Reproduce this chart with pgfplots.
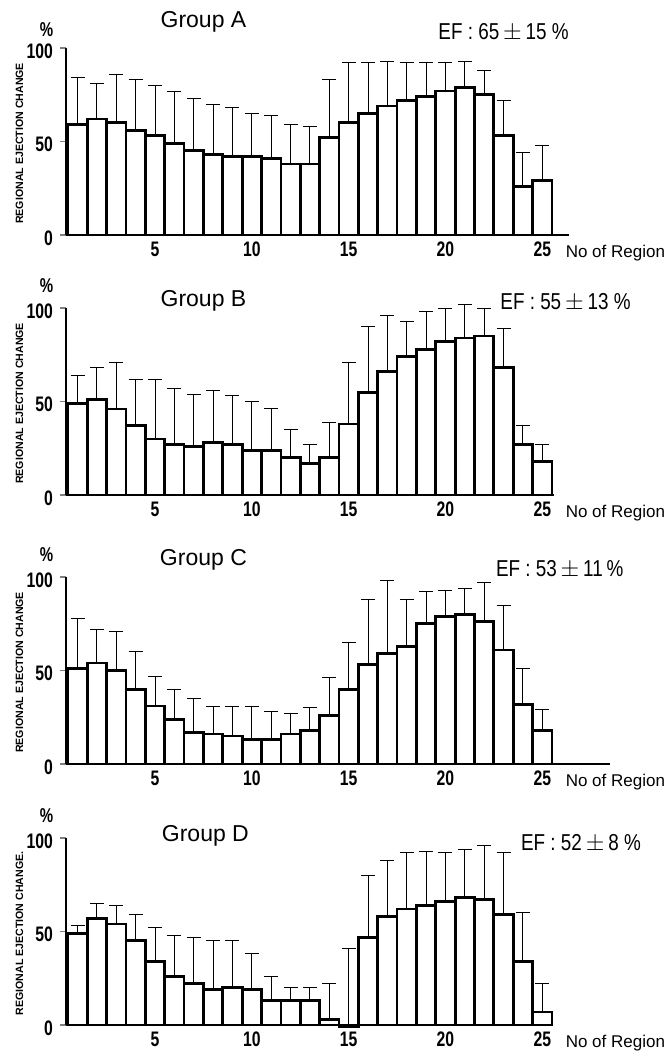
\documentclass[border=0pt]{standalone}
\usepackage{fontspec}
\setmainfont{Liberation Sans}
\newfontfamily\narrowfont[FakeStretch=0.82]{Liberation Sans}
\newfontfamily\tickfont[FakeStretch=0.75]{Liberation Sans}
\usepackage{pgfplots}
\usepackage{pgfplotstable}
\pgfplotsset{compat=1.18}

\pgfplotstableread{
x y e
1 59 25
2 62 19
3 60 26
4 56 27
5 53 27
6 49 28
7 45 28
8 43 27
9 42 26
10 42 23
11 41 23
12 38 21
13 38 20
14 52 31
15 60 32
16 65 27
17 69 24
18 72 20
19 74 18
20 77 15
21 79 14
22 75 13
23 53 19
24 26 18
25 29 19
}\groupA
\pgfplotstableread{
x y e
1 49 15
2 51 17
3 46 25
4 37 25
5 30 32
6 27 30
7 26 28
8 28 28
9 27 26
10 24 26
11 24 22
12 20 15
13 17 10
14 20 19
15 38 33
16 55 35
17 66 30
18 74 19
19 78 20
20 82 18
21 84 18
22 85 15
23 68 21
24 27 10
25 18 9
}\groupB
\pgfplotstableread{
x y e
1 51 27
2 54 18
3 50 21
4 40 20
5 31 16
6 24 16
7 17 18
8 16 15
9 15 16
10 13 18
11 13 15
12 16 11
13 18 12
14 26 20
15 40 25
16 53 35
17 59 39
18 63 25
19 75 17
20 79 14
21 80 14
22 76 21
23 61 24
24 32 19
25 18 11
}\groupC
\pgfplotstableread{
x y e
1 49 4
2 57 8
3 54 10
4 45 14
5 34 18
6 26 22
7 22 25
8 19 26
9 20 25
10 19 19
11 13 13
12 13 7
13 13 7
14 3 19
15 -1 42
16 47 33
17 58 30
18 62 30
19 64 29
20 66 26
21 68 26
22 67 29
23 59 33
24 34 26
25 7 15
}\groupD

\tikzset{
  lbl/.style={font=\narrowfont\fontsize{11.5}{13}\selectfont},
  ttl/.style={font=\fontsize{11.5}{13}\selectfont},
}
\pgfplotsset{
  panel/.style={
    x=9.68pt, y=0.935pt,
    xmin=0.4, ymin=0, ymax=100,
    anchor=south west,
    clip=false,
    axis x line*=bottom, axis y line*=left,
    axis line style={line width=1.3pt},
    xtick={5,10,15,20,25},
    ytick={0,50,100},
    xtick style={draw=none},
    ytick style={line width=0.8pt},
    tick align=outside,
    major tick length=3pt,
    /pgf/number format/assume math mode=true,
    tick label style={font=\tickfont\bfseries\fontsize{10.5}{12}\selectfont},
    xticklabel style={yshift=3pt},
    yticklabel style={yshift=-1.5pt},
  },
  regbars/.style={
    ybar, bar width=1, draw=black, fill=white, line width=1.4pt,
    error bars/.cd, y dir=plus, y explicit,
    error bar style={line width=0.5pt},
    error mark options={rotate=90, mark size=3.5pt, line width=0.5pt},
  },
}
\newcommand{\ylab}[1]{\node[rotate=90, font=\bfseries\fontsize{5.3}{6}\selectfont] at (axis cs:-2.0,49) {#1};}
\newcommand{\pct}[1]{\node[font=\tickfont\bfseries\fontsize{10}{12}\selectfont] at (axis cs:-0.6,#1) {\%};}
\newcommand{\region}{\node[anchor=west, font=\fontsize{8.5}{10}\selectfont] at (axis cs:25.85,-9.5) {No of Region};}

\begin{document}
\begin{tikzpicture}
\path[use as bounding box] (-33pt,-409.5pt) rectangle (299.5pt,117.5pt);

\begin{axis}[panel, xmax=26.4, at={(0,0)}]
  \addplot[regbars] table[x=x, y=y, y error=e] {\groupA};
  \ylab{REGIONAL EJECTION CHANGE}
  \pct{110}
  \region
  \node[ttl] at (axis cs:7.5,114) {Group A};
  \node[lbl] at (axis cs:23.0,108.5) {EF : 65\,$\pm$\,15 \%};
\end{axis}

\begin{axis}[panel, xmax=25.6, at={(0,-130pt)}]
  \addplot[regbars] table[x=x, y=y, y error=e] {\groupB};
  \ylab{REGIONAL EJECTION CHANGE}
  \pct{112}
  \region
  \node[ttl] at (axis cs:7.5,104) {Group B};
  \node[lbl] at (axis cs:26.2,103) {EF : 55\,$\pm$\,13 \%};
\end{axis}

\begin{axis}[panel, xmax=28.5, at={(0,-264.5pt)}]
  \addplot[regbars] table[x=x, y=y, y error=e] {\groupC};
  \ylab{REGIONAL EJECTION CHANGE}
  \pct{112}
  \region
  \node[ttl] at (axis cs:7.5,109) {Group C};
  \node[lbl] at (axis cs:25.9,104) {EF : 53\,$\pm$\,11\,\%};
\end{axis}

\begin{axis}[panel, xmax=25.5, at={(0,-395pt)}]
  \addplot[regbars] table[x=x, y=y, y error=e] {\groupD};
  \ylab{REGIONAL EJECTION CHANGE.}
  \pct{112}
  \region
  \node[ttl] at (axis cs:7.6,101) {Group D};
  \node[lbl] at (axis cs:27.0,97) {EF : 52\,$\pm$\,8 \%};
\end{axis}
\end{tikzpicture}
\end{document}
